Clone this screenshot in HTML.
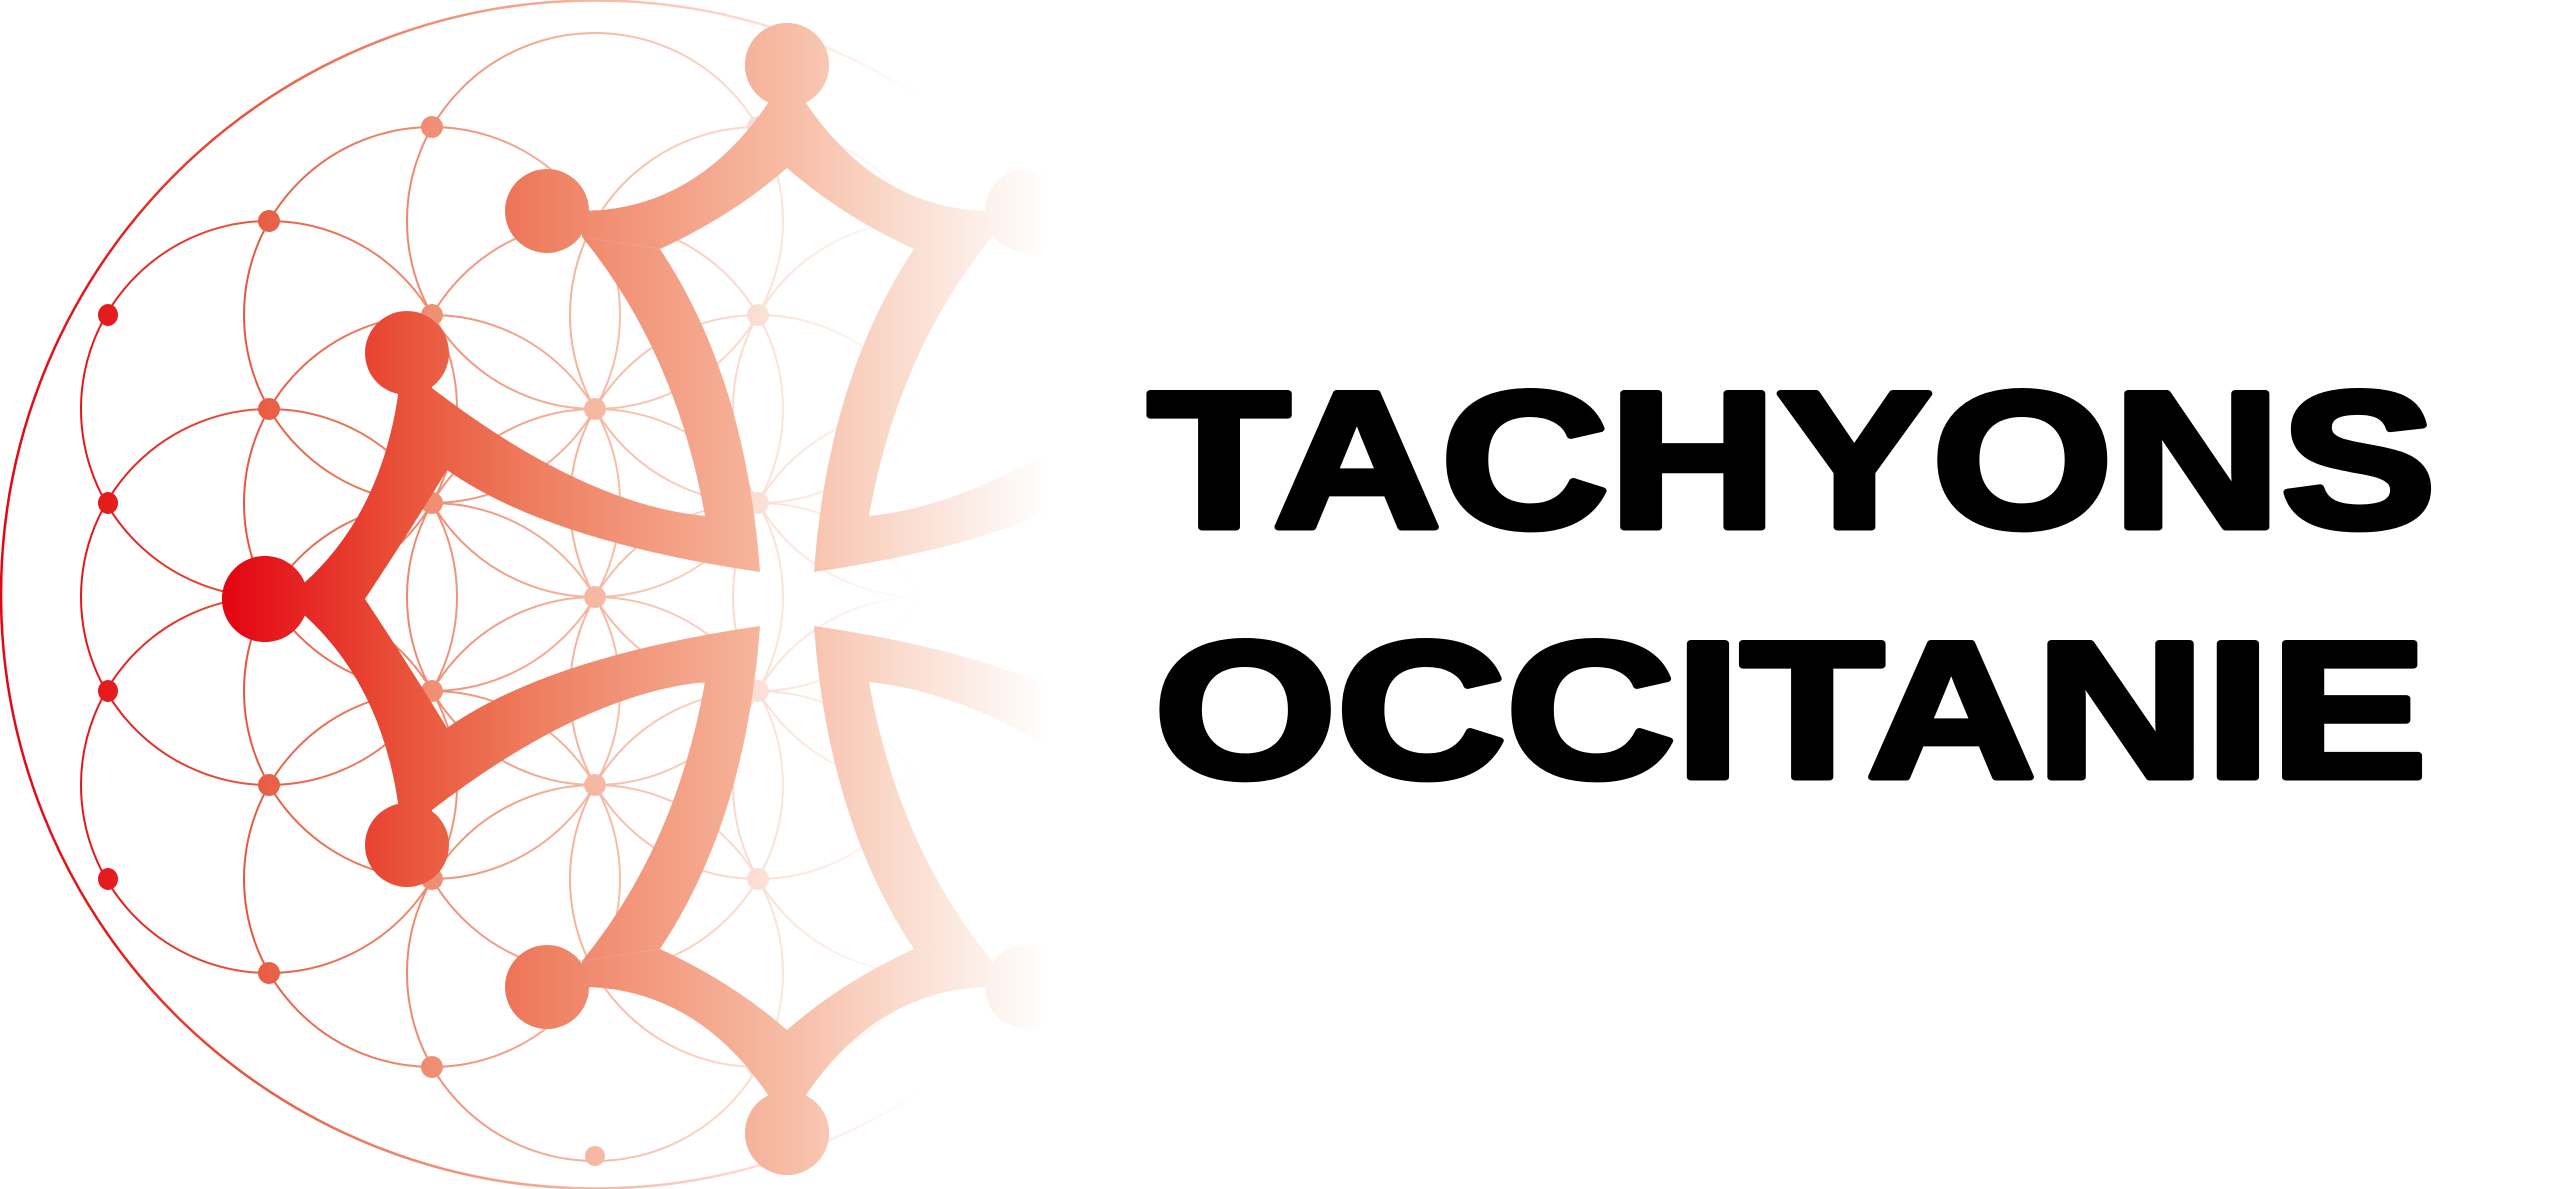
<!DOCTYPE html>
<html><head><meta charset="utf-8"><style>
html,body{margin:0;padding:0;background:#fff;}
svg{display:block;}
</style></head><body>
<svg width="2560" height="1189" viewBox="0 0 2560 1189" xmlns="http://www.w3.org/2000/svg">
<defs>
<linearGradient id="gl" gradientUnits="userSpaceOnUse" x1="0" y1="0" x2="920" y2="0">
<stop offset="0" stop-color="#e30613"/>
<stop offset="0.12" stop-color="#e41c1d"/>
<stop offset="0.29" stop-color="#e85f45"/>
<stop offset="0.47" stop-color="#ef8f74"/>
<stop offset="0.65" stop-color="#f6b9a3"/>
<stop offset="0.83" stop-color="#fbe0d6"/>
<stop offset="1" stop-color="#ffffff"/>
</linearGradient>
<linearGradient id="gs" gradientUnits="userSpaceOnUse" x1="230" y1="0" x2="1045" y2="0">
<stop offset="0" stop-color="#e30613"/>
<stop offset="0.22" stop-color="#e9553b"/>
<stop offset="0.39" stop-color="#ef8163"/>
<stop offset="0.69" stop-color="#f7bda6"/>
<stop offset="0.82" stop-color="#fadbcd"/>
<stop offset="1" stop-color="#ffffff"/>
</linearGradient>
<g id="q">
<path d="M300,599 L303,584 Q385,511 400,380 L432,370 L432,388 Q583,504 705,516 Q676,352 582,237 L660,249 Q746,378 760,572 Q548,541 447,470 Q412,528 365,599 Z"/>
<path d="M582,200 L590,211 Q700,206 770,100 L775,80 L787,80 L787,168 Q732,216 660,249 L582,237 Z"/>
<circle cx="547" cy="211" r="42"/>
<circle cx="407" cy="353" r="42"/>
<circle cx="787" cy="65" r="42"/>
<circle cx="265" cy="599" r="43"/>
</g>
<g id="h">
<use href="#q"/>
<use href="#q" transform="translate(1574,0) scale(-1,1)"/>
</g>
<mask id="m" maskUnits="userSpaceOnUse" x="0" y="0" width="1200" height="1189">
<g fill="#fff">
<use href="#h"/>
<use href="#h" transform="translate(0,1198) scale(1,-1)"/>
</g>
</mask>
</defs>

<circle cx="595" cy="594.5" r="594" fill="none" stroke="url(#gl)" stroke-width="2.5"/>

<g fill="none" stroke="url(#gl)" stroke-width="2">
<circle cx="595" cy="597" r="188"/>
<circle cx="595" cy="409" r="188"/>
<circle cx="595" cy="785" r="188"/>
<circle cx="595" cy="221" r="188"/>
<circle cx="595" cy="973" r="188"/>
<circle cx="432" cy="503" r="188"/>
<circle cx="432" cy="691" r="188"/>
<circle cx="432" cy="315" r="188"/>
<circle cx="432" cy="879" r="188"/>
<circle cx="758" cy="503" r="188"/>
<circle cx="758" cy="691" r="188"/>
<circle cx="758" cy="315" r="188"/>
<circle cx="758" cy="879" r="188"/>
<circle cx="269" cy="597" r="188"/>
<circle cx="269" cy="409" r="188"/>
<circle cx="269" cy="785" r="188"/>
<circle cx="921" cy="597" r="188"/>
<circle cx="921" cy="409" r="188"/>
<circle cx="921" cy="785" r="188"/>
</g>
<g fill="url(#gl)">
<ellipse cx="108" cy="315" rx="10" ry="11"/>
<ellipse cx="108" cy="503" rx="10" ry="11"/>
<ellipse cx="108" cy="691" rx="10" ry="11"/>
<ellipse cx="108" cy="879" rx="10" ry="11"/>
<ellipse cx="269" cy="221" rx="11" ry="11"/>
<ellipse cx="269" cy="409" rx="11" ry="11"/>
<ellipse cx="269" cy="597" rx="11" ry="11"/>
<ellipse cx="269" cy="785" rx="11" ry="11"/>
<ellipse cx="269" cy="973" rx="11" ry="11"/>
<ellipse cx="432" cy="127" rx="11" ry="11"/>
<ellipse cx="432" cy="315" rx="11" ry="11"/>
<ellipse cx="432" cy="503" rx="11" ry="11"/>
<ellipse cx="432" cy="691" rx="11" ry="11"/>
<ellipse cx="432" cy="879" rx="11" ry="11"/>
<ellipse cx="432" cy="1067" rx="11" ry="11"/>
<ellipse cx="595" cy="221" rx="11" ry="11"/>
<ellipse cx="595" cy="409" rx="11" ry="11"/>
<ellipse cx="595" cy="597" rx="11" ry="11"/>
<ellipse cx="595" cy="785" rx="11" ry="11"/>
<ellipse cx="595" cy="973" rx="11" ry="11"/>
<ellipse cx="595" cy="1156" rx="10" ry="10"/>
<ellipse cx="758" cy="127" rx="11" ry="11"/>
<ellipse cx="758" cy="315" rx="11" ry="11"/>
<ellipse cx="758" cy="503" rx="11" ry="11"/>
<ellipse cx="758" cy="691" rx="11" ry="11"/>
<ellipse cx="758" cy="879" rx="11" ry="11"/>
<ellipse cx="758" cy="1067" rx="11" ry="11"/>
</g>

<rect x="0" y="0" width="1200" height="1189" fill="url(#gs)" mask="url(#m)"/>

<g font-family="'Liberation Sans', Arial, sans-serif" font-weight="bold" font-size="194" fill="#000" stroke="#000" stroke-width="7" stroke-linejoin="round">
<text x="1148" y="527" textLength="1288" lengthAdjust="spacingAndGlyphs">TACHYONS</text>
<text x="1154" y="777" textLength="1273" lengthAdjust="spacingAndGlyphs">OCCITANIE</text>
</g>
</svg>
</body></html>
